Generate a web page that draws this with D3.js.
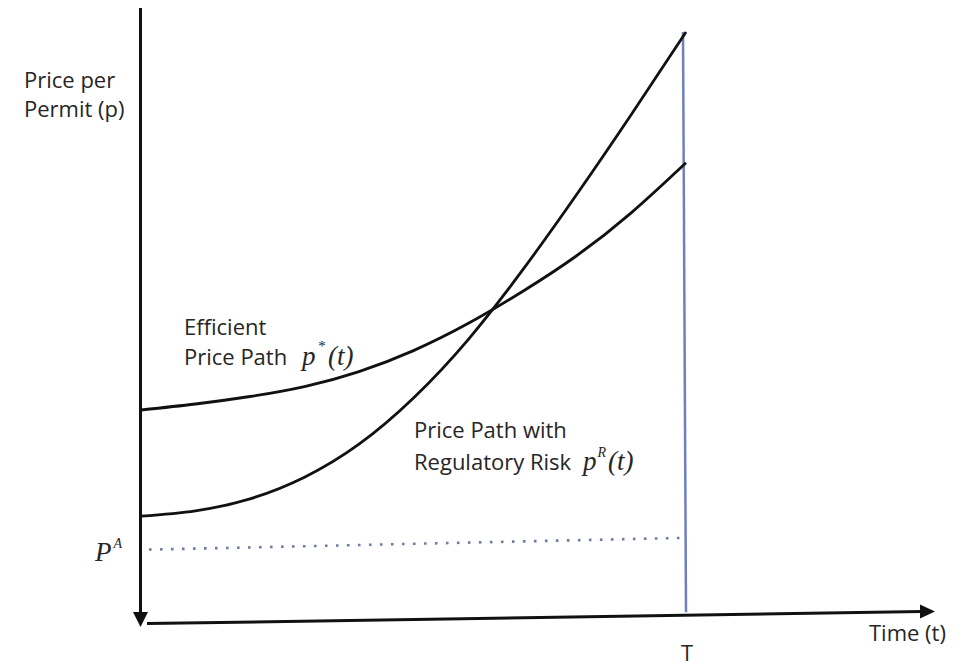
<!DOCTYPE html>
<html>
<head>
<meta charset="utf-8">
<script src="https://cdn.jsdelivr.net/npm/d3@7"></script>
<style>
  body { margin: 0; background: #fff; }
  svg { display: block; }
  .lbl { font-family: "Open Sans", sans-serif; font-size: 22px; fill: #262626; }
  .math { font-family: "Liberation Serif", serif; font-style: italic; fill: #262626; }
</style>
</head>
<body>
<div id="chart"></div>
<script>
////////////////////////////////////////////////////////////////////////
// Data (time in units up to T = 10, price in arbitrary units 0..100)

let times = [0, 1, 2, 3, 4, 5, 6, 7, 8, 9, 10];
let efficientPrice = [35.5, 36.5, 37.75, 39.4, 41.9, 45.4, 49.9, 55.25, 61.25, 68.4, 76.7];
let riskPrice = [17.8, 18.7, 20.7, 24.3, 29.8, 37.5, 47.2, 58.8, 71.5, 84.8, 98.5];
let floorTimes = [0, 10];
let floorPrice = [12.2, 14.2];   // P^A level (picture is slightly skewed)
let horizon = 10;                // T

////////////////////////////////////////////////////////////////////////
// Scales and helpers

let width = 976, height = 668;

let xScale = d3.scaleLinear().domain([0, horizon]).range([141, 686]);
let yScale = d3.scaleLinear().domain([0, 100]).range([623, 23]);

let svg = d3.select("#chart").append("svg")
  .attr("width", width)
  .attr("height", height);

let line = d3.line()
  .x(d => xScale(d[0]))
  .y(d => yScale(d[1]))
  .curve(d3.curveNatural);

function zipSeries(xs, ys) {
  return xs.map((x, i) => [x, ys[i]]);
}

////////////////////////////////////////////////////////////////////////
// Axes (hand drawn style, no ticks)

// vertical axis, arrow pointing down
svg.append("line")
  .attr("x1", xScale(0) - 0.5).attr("y1", 8)
  .attr("x2", xScale(0) - 0.5).attr("y2", 615)
  .attr("stroke", "#111").attr("stroke-width", 3);
svg.append("path")
  .attr("d", d3.line()([[xScale(0) - 8, 612], [xScale(0) + 7, 612], [xScale(0) - 0.5, 627]]))
  .attr("fill", "#111");

// horizontal axis, arrow pointing right (slightly tilted like the scan)
svg.append("line")
  .attr("x1", xScale(0) + 6).attr("y1", yScale(-0.1))
  .attr("x2", 922).attr("y2", yScale(1.9))
  .attr("stroke", "#111").attr("stroke-width", 3);
svg.append("path")
  .attr("d", d3.line()([[920, yScale(1.9) - 7], [920, yScale(1.9) + 7], [935, yScale(1.9)]]))
  .attr("fill", "#111");

// T vertical line
svg.append("line")
  .attr("x1", xScale(horizon) - 3).attr("y1", yScale(98.5))
  .attr("x2", xScale(horizon)).attr("y2", yScale(1.8))
  .attr("stroke", "#6f80c0").attr("stroke-width", 2.5);

// P^A dotted line
svg.append("path")
  .attr("d", d3.line().x(d => xScale(d[0])).y(d => yScale(d[1]))(zipSeries(floorTimes, floorPrice)))
  .attr("fill", "none")
  .attr("stroke", "#6f7ca2")
  .attr("stroke-width", 2.6)
  .attr("stroke-dasharray", "2.6 8.4")
  .attr("stroke-dashoffset", -8);

////////////////////////////////////////////////////////////////////////
// Price paths

svg.append("path")
  .attr("d", line(zipSeries(times, efficientPrice)))
  .attr("fill", "none").attr("stroke", "#111").attr("stroke-width", 2.8);

svg.append("path")
  .attr("d", line(zipSeries(times, riskPrice)))
  .attr("fill", "none").attr("stroke", "#111").attr("stroke-width", 2.8);

////////////////////////////////////////////////////////////////////////
// Labels

function addText(x, y, str, cls) {
  return svg.append("text").attr("class", cls).attr("x", x).attr("y", y).text(str);
}

addText(24, 88, "Price per", "lbl");
addText(24, 117, "Permit (p)", "lbl");

addText(184, 335, "Efficient", "lbl");
addText(184, 365, "Price Path", "lbl");
let ps = svg.append("text").attr("class", "math").attr("x", 302).attr("y", 365).attr("font-size", 27);
ps.append("tspan").text("p");
ps.append("tspan").attr("dy", -14).attr("dx", 2).attr("font-size", 15).text("*");
ps.append("tspan").attr("dy", 14).attr("dx", 3).text("(t)");

addText(414, 438, "Price Path with", "lbl");
addText(414, 470, "Regulatory Risk", "lbl");
let pr = svg.append("text").attr("class", "math").attr("x", 583).attr("y", 470).attr("font-size", 27);
pr.append("tspan").text("p");
pr.append("tspan").attr("dy", -13).attr("dx", 1).attr("font-size", 14).text("R");
pr.append("tspan").attr("dy", 13).attr("dx", 2).text("(t)");

let pa = svg.append("text").attr("class", "math").attr("x", 95).attr("y", 561).attr("font-size", 27);
pa.append("tspan").text("P");
pa.append("tspan").attr("dy", -13).attr("dx", 2).attr("font-size", 14).text("A");

addText(xScale(horizon) + 1, 661, "T", "lbl").attr("text-anchor", "middle");
addText(869, 641, "Time (t)", "lbl");
</script>
</body>
</html>
